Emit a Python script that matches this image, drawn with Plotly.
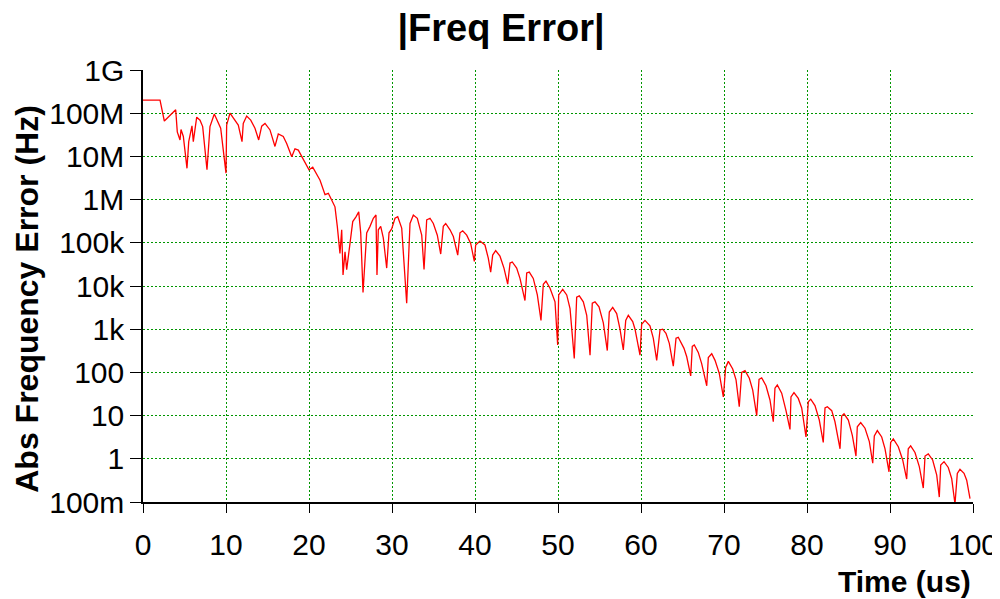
import plotly.graph_objects as go

time_us = [0, 2.05, 2.57, 3.94, 4.13, 4.46, 4.58, 4.86, 5.30, 5.51, 5.90, 6.06, 6.47, 6.87, 7.19, 7.71, 8.07, 8.59, 9.36, 10.0,
           10.08, 10.48, 11.48, 11.93, 12.08, 12.49, 12.98, 13.49, 13.94, 14.30, 14.70, 15.30, 15.90, 16.30, 16.90, 17.31, 17.92, 18.31, 18.71, 19.31,
           20.0, 20.45, 20.93, 21.33, 21.93, 22.33, 22.73, 23.13, 23.41, 23.73, 23.94, 24.10, 24.34, 24.54, 24.94, 25.27, 25.66, 25.99, 26.23, 26.51,
           26.95, 27.35, 27.75, 28.07, 28.19, 28.35, 28.64, 28.95, 29.36, 29.64, 29.96, 30.36, 30.69, 31.17, 31.77, 32.17, 32.57, 33.05, 33.58, 33.86,
           34.18, 34.58, 34.98, 35.46, 35.87, 36.18, 36.47, 36.99, 37.39, 37.92, 38.19, 38.52, 39.0, 39.48, 39.92, 40.08, 40.60, 41.20, 41.60, 41.89,
           42.13, 42.49, 43.01, 43.49, 43.94, 44.22, 44.49, 45.02, 45.42, 46.02, 46.23, 46.54, 47.02, 47.51, 47.95, 48.23, 48.55, 49.04, 49.64, 49.96,
           50.08, 50.57, 51.05, 51.45, 51.96, 52.25, 52.57, 53.05, 53.46, 53.86, 54.13, 54.46, 54.94, 55.46, 55.94, 56.18, 56.59, 57.07, 57.47, 57.87,
           58.16, 58.47, 59.0, 59.28, 59.88, 60.08, 60.48, 61.08, 61.48, 61.89, 62.29, 62.61, 63.01, 63.41, 63.89, 64.22, 64.49, 65.18, 65.51, 65.99,
           66.18, 66.42, 66.90, 67.31, 67.92, 68.11, 68.52, 68.92, 69.43, 69.92, 70.20, 70.52, 71.05, 71.45, 71.84, 72.13, 72.53, 73.05, 73.46, 73.94,
           74.22, 74.54, 75.06, 75.54, 75.94, 76.14, 76.42, 76.95, 77.47, 77.95, 78.07, 78.43, 78.95, 79.36, 79.88, 80.16, 80.45, 80.96, 81.48, 81.96,
           82.17, 82.45, 82.98, 83.37, 83.98, 84.18, 84.46, 84.98, 85.46, 85.90, 86.06, 86.47, 86.99, 87.51, 87.92, 88.11, 88.47, 89.0, 89.40, 89.88,
           90.08, 90.40, 91.0, 91.53, 92.01, 92.20, 92.49, 93.01, 93.53, 94.01, 94.22, 94.61, 95.14, 95.63, 95.94, 96.11, 96.51, 97.02, 97.43, 97.83,
           98.11, 98.43, 98.92, 99.24, 99.64]

freq_err_hz = [2.0e8, 2.0e8, 6.6e7, 1.2e8, 3.7e7, 2.4e7, 4.2e7, 2.9e7, 5.3e6, 2.2e7, 5.1e7, 2.2e7, 8.1e7, 6.9e7, 4.9e7, 4.9e6, 4.9e7, 9.6e7, 4.5e7, 4.1e6,
               5.3e7, 1.0e8, 5.3e7, 2.2e7, 5.8e7, 8.6e7, 6.9e7, 4.5e7, 2.4e7, 5.0e7, 5.8e7, 4.1e7, 1.7e7, 3.3e7, 2.9e7, 2.0e7, 9.8e6, 1.5e7, 1.4e7, 8.3e6,
               4.9e6, 5.6e6, 3.7e6, 2.8e6, 1.3e6, 1.4e6, 9.8e5, 6.8e5, 2.4e5, 5.7e4, 2.0e5, 1.8e4, 6.2e4, 2.4e4, 9.7e4, 3.1e5, 4.0e5, 5.2e5, 1.7e5, 7.1e3,
               1.7e5, 2.4e5, 3.7e5, 4.4e5, 1.8e4, 2.0e5, 2.4e5, 1.3e5, 2.6e4, 1.7e5, 2.1e5, 3.7e5, 4.0e5, 2.2e5, 4.0e3, 2.8e5, 4.4e5, 3.7e5, 1.5e5, 2.4e4,
               3.4e5, 3.7e5, 2.8e5, 1.5e5, 5.5e4, 2.4e5, 2.8e5, 2.0e5, 1.4e5, 5.2e4, 1.7e5, 1.9e5, 1.5e5, 9.7e4, 3.7e4, 8.9e4, 1.1e5, 8.9e4, 4.4e4, 2.1e4,
               5.2e4, 6.6e4, 4.9e4, 2.6e4, 1.1e4, 3.4e4, 3.6e4, 2.6e4, 1.5e4, 4.6e3, 2.0e4, 2.1e4, 1.5e4, 6.2e3, 1.6e3, 1.1e4, 1.3e4, 8.9e3, 4.3e3, 4.3e2,
               6.2e3, 8.4e3, 6.2e3, 3.0e3, 2.1e2, 5.5e3, 5.9e3, 4.3e3, 2.1e3, 2.5e2, 4.0e3, 4.3e3, 3.3e3, 1.4e3, 3.2e2, 2.5e3, 3.2e3, 2.3e3, 1.0e3, 3.3e2,
               1.6e3, 2.1e3, 1.5e3, 1.0e3, 2.5e2, 1.3e3, 1.6e3, 1.2e3, 6.2e2, 1.9e2, 9.6e2, 1.0e3, 8.0e2, 4.7e2, 1.4e2, 6.2e2, 6.5e2, 3.6e2, 2.3e2, 83,
               4.0e2, 4.3e2, 2.9e2, 1.6e2, 49, 2.2e2, 2.7e2, 1.9e2, 95, 27, 1.3e2, 1.8e2, 1.2e2, 67, 16, 1.0e2, 1.1e2, 73, 39, 10,
               69, 75, 49, 23, 7.2, 43, 51, 33, 13, 4.8, 27, 34, 25, 15, 3.2, 21, 24, 17, 7.9, 2.4,
               15, 16, 13, 7.2, 1.7, 9.8, 11, 7.9, 3.5, 1.16, 5.5, 6.9, 5.1, 2.5, 0.79, 3.4, 4.5, 3.2, 1.7, 0.50,
               2.4, 2.9, 1.9, 0.94, 0.34, 1.7, 2.0, 1.4, 0.66, 0.21, 1.16, 1.3, 0.94, 0.42, 0.13, 0.72, 0.86, 0.63, 0.35, 0.09,
               0.46, 0.57, 0.46, 0.32, 0.12]

x_ticks = [0, 10, 20, 30, 40, 50, 60, 70, 80, 90, 100]
y_tick_vals = [0.1, 1, 10, 100, 1e3, 1e4, 1e5, 1e6, 1e7, 1e8, 1e9]
y_tick_text = ["100m", "1", "10", "100", "1k", "10k", "100k", "1M", "10M", "100M", "1G"]

tick_font = dict(family="Liberation Sans, Arial, sans-serif", size=30, color="black")
bold_font = "Liberation Sans, Arial, sans-serif"
grid_col = "rgb(0,150,0)"
grid_dash = "2px,2px"

fig = go.Figure()
fig.add_trace(go.Scatter(x=time_us, y=freq_err_hz, mode="lines",
                         line=dict(color="red", width=1.3), showlegend=False))

fig.update_layout(
    width=992, height=591,
    margin=dict(l=135, r=27, t=62, b=97, autoexpand=False),
    paper_bgcolor="white", plot_bgcolor="white",
    title=dict(text="<b>|Freq Error|</b>", x=0.497, xanchor="center", y=0.966, yanchor="middle",
               font=dict(family=bold_font, size=38, color="black")),
    xaxis=dict(range=[0, 100], tickmode="array", tickvals=x_ticks, ticks="outside", ticklen=9,
               tickcolor="black", tickwidth=1, showline=True, linecolor="black", linewidth=1.5,
               showgrid=True, gridcolor=grid_col, griddash=grid_dash, gridwidth=1, automargin=False,
               tickfont=tick_font, zeroline=False, ticklabelstandoff=6),
    yaxis=dict(type="log", range=[-1, 9], tickmode="array", tickvals=y_tick_vals, ticktext=y_tick_text,
               ticks="outside", ticklen=11, tickcolor="black", tickwidth=1,
               showline=True, linecolor="black", linewidth=1.5, automargin=False,
               showgrid=True, gridcolor=grid_col, griddash=grid_dash, gridwidth=1,
               tickfont=tick_font, zeroline=False),
    annotations=[
        dict(text="<b>Time (us)</b>", xref="paper", yref="paper", x=1.0, y=-0.183,
             xanchor="right", yanchor="middle", showarrow=False,
             font=dict(family=bold_font, size=30, color="black")),
        dict(text="<b>Abs Frequency Error (Hz)</b>", xref="paper", yref="paper", x=-0.14, y=0.47,
             xanchor="center", yanchor="middle", textangle=-90, showarrow=False,
             font=dict(family=bold_font, size=32, color="black")),
    ],
)

fig.write_html("out.html")
